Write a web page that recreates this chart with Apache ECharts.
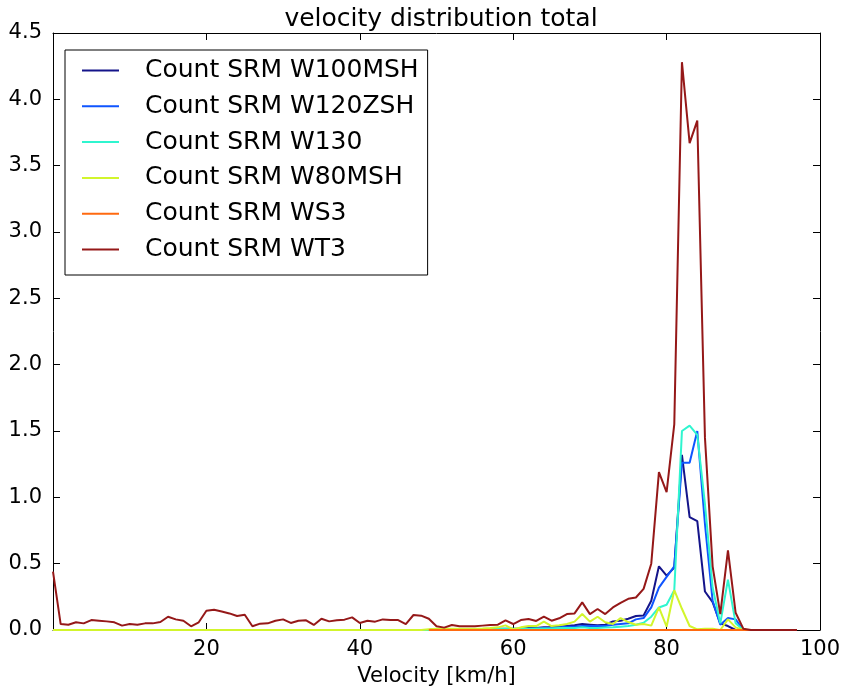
<!DOCTYPE html>
<html>
<head>
<meta charset="utf-8">
<script src="https://cdn.jsdelivr.net/npm/echarts@6/dist/echarts.min.js"></script>
<style>html,body{margin:0;padding:0;background:#fff;}#chart{width:846px;height:692px;}</style>
</head>
<body>
<div id="chart"></div>
<script>
// Velocity bins (km/h)
const velocity = [
  0,1,2,3,4,5,6,7,8,9,
  10,11,12,13,14,15,16,17,18,19,
  20,21,22,23,24,25,26,27,28,29,
  30,31,32,33,34,35,36,37,38,39,
  40,41,42,43,44,45,46,47,48,49,
  50,51,52,53,54,55,56,57,58,59,
  60,61,62,63,64,65,66,67,68,69,
  70,71,72,73,74,75,76,77,78,79,
  80,81,82,83,84,85,86,87,88,89,
  90,91,92,93,94,95,96,97
];

const seriesNames = ['Count SRM W100MSH','Count SRM W120ZSH','Count SRM W130','Count SRM W80MSH','Count SRM WS3','Count SRM WT3'];

const w100msh = [
  0,0,0,0,0,0,0,0,0,0,
  0,0,0,0,0,0,0,0,0,0,
  0,0,0,0,0,0,0,0,0,0,
  0,0,0,0,0,0,0,0,0,0,
  0,0,0,0,0,0,0,0,0,0,
  0.005,0.005,0.005,0.005,0.005,0.005,0.008,0.008,0.01,0.01,
  0.01,0.01,0.015,0.015,0.02,0.02,0.025,0.03,0.035,0.045,
  0.04,0.035,0.04,0.065,0.07,0.085,0.105,0.11,0.22,0.48,
  0.41,0.47,1.32,0.85,0.82,0.29,0.21,0.05,0.03,0,
  0,0,0,0,0,0,0,0
];

const w120zsh = [
  0,0,0,0,0,0,0,0,0,0,
  0,0,0,0,0,0,0,0,0,0,
  0,0,0,0,0,0,0,0,0,0,
  0,0,0,0,0,0,0,0,0,0,
  0,0,0,0,0,0,0,0,0,0,
  0.005,0.005,0.005,0.005,0.005,0.005,0.005,0.008,0.008,0.008,
  0.005,0.008,0.01,0.01,0.015,0.015,0.02,0.025,0.025,0.03,
  0.03,0.03,0.03,0.04,0.045,0.05,0.08,0.09,0.17,0.32,
  0.40,0.48,1.26,1.26,1.50,0.80,0.22,0.04,0.09,0.08,
  0,0,0,0,0,0,0,0
];

const w130 = [
  0,0,0,0,0,0,0,0,0,0,
  0,0,0,0,0,0,0,0,0,0,
  0,0,0,0,0,0,0,0,0,0,
  0,0,0,0,0,0,0,0,0,0,
  0,0,0,0,0,0,0,0,0,0,
  0.005,0.005,0.005,0.005,0.005,0.005,0.005,0.005,0.008,0.01,
  0.01,0.01,0.01,0.012,0.012,0.012,0.015,0.015,0.015,0.02,
  0.015,0.015,0.018,0.02,0.025,0.03,0.04,0.055,0.10,0.17,
  0.19,0.30,1.50,1.54,1.47,0.95,0.32,0.05,0.38,0.05,
  0,0,0,0,0,0,0,0
];

const w80msh = [
  0,0,0,0,0,0,0,0,0,0,
  0,0,0,0,0,0,0,0,0,0,
  0,0,0,0,0,0,0,0,0,0,
  0,0,0,0,0,0,0,0,0,0,
  0,0,0,0,0,0,0,0,0,0.005,
  0.01,0.01,0.01,0.01,0.01,0.01,0.012,0.015,0.02,0.035,
  0.005,0.02,0.03,0.03,0.063,0.03,0.035,0.045,0.063,0.12,
  0.063,0.10,0.058,0.045,0.09,0.06,0.04,0.045,0.033,0.17,
  0.025,0.30,0.16,0.03,0.005,0.01,0.01,0,0.08,0.02,
  0,0,0,0,0,0,0,0
];

const ws3 = [
  null,null,null,null,null,null,null,null,null,null,
  null,null,null,null,null,null,null,null,null,null,
  null,null,null,null,null,null,null,null,null,null,
  null,null,null,null,null,null,null,null,null,null,
  null,null,null,null,null,null,null,null,null,0,
  0,0,0,0,0,0,0,0,0,0,
  0,0,0,0,0,0,0,0,0,0,
  0,0,0,0,0,0,0,0,0,0,
  0,0,0,0,0,0,0,0,0,0,
  0,0,0,0,0,0,0,0
];

const wt3 = [
  0.44,0.045,0.04,0.058,0.05,0.075,0.07,0.065,0.058,0.033,
  0.045,0.04,0.05,0.05,0.06,0.10,0.08,0.07,0.028,0.058,
  0.145,0.153,0.14,0.125,0.105,0.115,0.028,0.048,0.05,0.07,
  0.08,0.053,0.07,0.073,0.038,0.085,0.065,0.073,0.078,0.095,
  0.053,0.07,0.063,0.08,0.075,0.075,0.045,0.113,0.108,0.085,
  0.028,0.018,0.038,0.028,0.028,0.028,0.033,0.038,0.04,0.072,
  0.045,0.075,0.083,0.068,0.10,0.07,0.088,0.12,0.125,0.208,
  0.12,0.158,0.12,0.17,0.205,0.235,0.245,0.31,0.50,1.19,
  1.04,1.55,4.28,3.67,3.84,1.45,0.48,0.12,0.60,0.13,
  0.01,0,0,0,0,0,0,0
];

const xTicks = [0,20,40,60,80,100];
const yTicks = [0,0.5,1,1.5,2,2.5,3,3.5,4,4.5];

const colors = ['#14148a','#0f55ff','#2ff5cf','#d2f52c','#ff6a10','#951818'];
const seriesData = [w100msh, w120zsh, w130, w80msh, ws3, wt3];

const FONT = 'DejaVu Sans';
const chart = echarts.init(document.getElementById('chart'), null, {renderer:'canvas'});

function pairs(arr){ return velocity.map((v,i)=>[v, arr[i]]); }

const axisLineStyle = {color:'#000', width:1};
const option = {
  animation:false,
  backgroundColor:'#fff',
  color: colors,
  title:{
    text:'velocity distribution total',
    left:436, top:2, textAlign:'center',
    textStyle:{fontFamily:FONT, fontSize:25, fontWeight:'normal', color:'#000'}
  },
  grid:{left:53, right:26, top:33, bottom:61},
  legend:{
    orient:'vertical', left:65, top:50,
    data: seriesNames,
    itemWidth:37, itemHeight:14, itemGap:10.8,
    borderColor:'#000', borderWidth:1, borderRadius:0,
    backgroundColor:'#fff',
    padding:[8,9,13,16],
    selectedMode:false,
    itemStyle:{opacity:0},
    lineStyle:{width:2},
    textStyle:{fontFamily:FONT, fontSize:25, color:'#000', padding:[0,0,0,21]}
  },
  xAxis:[{
    type:'value', min:xTicks[0], max:xTicks[xTicks.length-1], interval:20, position:'bottom',
    axisLine:{show:true, onZero:false, lineStyle:axisLineStyle},
    axisTick:{show:true, inside:true, length:7, lineStyle:axisLineStyle},
    axisLabel:{show:true, margin:9, fontFamily:FONT, fontSize:21, color:'#000',
      formatter:v=> v===0 ? '' : String(v)},
    splitLine:{show:false},
    name:'Velocity [km/h]', nameLocation:'middle', nameGap:36,
    nameTextStyle:{fontFamily:FONT, fontSize:21, color:'#000'}
  },{
    type:'value', min:xTicks[0], max:xTicks[xTicks.length-1], interval:20, position:'top',
    axisLine:{show:true, onZero:false, lineStyle:axisLineStyle},
    axisTick:{show:true, inside:true, length:7, lineStyle:axisLineStyle},
    axisLabel:{show:false}, splitLine:{show:false}
  }],
  yAxis:[{
    type:'value', min:yTicks[0], max:yTicks[yTicks.length-1], interval:0.5, position:'left',
    axisLine:{show:true, onZero:false, lineStyle:axisLineStyle},
    axisTick:{show:true, inside:true, length:7, lineStyle:axisLineStyle},
    axisLabel:{show:true, margin:11, fontFamily:FONT, fontSize:21, color:'#000',
      formatter:v=> v.toFixed(1)},
    splitLine:{show:false}
  },{
    type:'value', min:yTicks[0], max:yTicks[yTicks.length-1], interval:0.5, position:'right',
    axisLine:{show:true, onZero:false, lineStyle:axisLineStyle},
    axisTick:{show:true, inside:true, length:7, lineStyle:axisLineStyle},
    axisLabel:{show:false}, splitLine:{show:false}
  }],
  series: seriesNames.map((name,i)=>({
    name, type:'line', xAxisIndex:0, yAxisIndex:0,
    data: pairs(seriesData[i]),
    symbol:'none', showSymbol:false, connectNulls:false,
    lineStyle:{width:2, color:colors[i]},
    itemStyle:{color:colors[i]},
    emphasis:{disabled:true},
    z:2+i
  }))
};
chart.setOption(option);
</script>
</body>
</html>
